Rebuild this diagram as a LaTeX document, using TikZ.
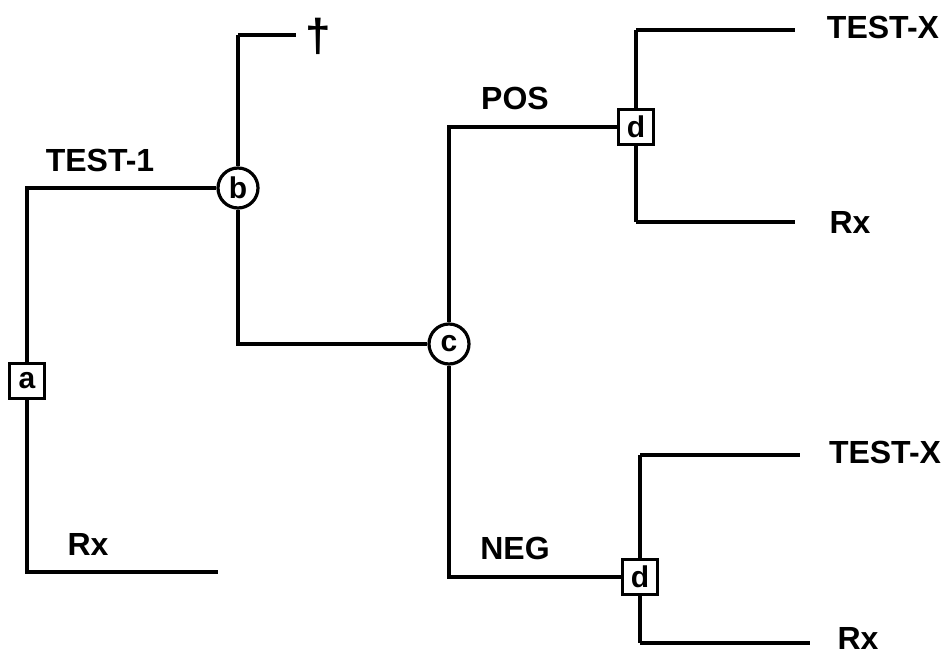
\documentclass[tikz,border=0pt]{standalone}
\usepackage{fontspec}
\setmainfont{Liberation Sans}
\begin{document}
\begin{tikzpicture}[x=1pt,y=-1pt,
    branch/.style={line width=3.2pt},
    chance/.style={draw, circle, line width=3.2pt, fill=white, minimum size=40pt,
        inner sep=0pt, font=\bfseries\fontsize{30}{30}\selectfont},
    choice/.style={draw, rectangle, line width=3.2pt, fill=white, minimum size=35pt,
        inner sep=0pt, font=\bfseries\fontsize{30}{30}\selectfont},
    lbl/.style={font=\bfseries\fontsize{32}{32}\selectfont, inner sep=0pt}]
    \useasboundingbox (0,0) rectangle (943,654);
    % Define the ends of the branches
    \coordinate (aend) at (218,572);
    \coordinate (btop) at (238,35);
    \coordinate (bend) at (296,35);
    \coordinate (dtopA) at (636,30);
    \coordinate (dtopB) at (636,222);
    \coordinate (dbotA) at (640,455);
    \coordinate (dbotB) at (640,643);

    % Draw the branches first, the nodes sit on top
    \draw[branch] (dtopA) -- (795,30);
    \draw[branch] (dtopB) -- (795,222);
    \draw[branch] (dbotA) -- (800,455);
    \draw[branch] (dbotB) -- (810,643);
    \draw[branch] (dtopA) -- (dtopB);
    \draw[branch] (dbotA) -- (dbotB);
    \draw[branch] (btop) -- (bend);

    % Decision and chance nodes
    \node[choice] (a) at (27,381) {a};
    \node[chance] (b) at (238,188) {b};
    \node[chance] (c) at (449,344) {c};
    \node[choice] (d1) at (636,127) {d};
    \node[choice] (d2) at (640,577) {d};

    \draw[branch] (a.north) |- (b.west);
    \draw[branch] (a.south) |- (aend);
    \draw[branch] (b.north) -- (btop);
    \draw[branch] (b.south) |- (c.west);
    \draw[branch] (c.north) |- (d1.west);
    \draw[branch] (c.south) |- (d2.west);

    % Labels
    \node[lbl] (test1) at (100,160) {TEST-1};
    \node[lbl] (rxa) at (88,544) {Rx};
    \node[font=\bfseries\fontsize{46}{46}\selectfont, inner sep=0pt] (dead) at (318,36) {†};
    \node[lbl] (pos) at (515,98) {POS};
    \node[lbl] (neg) at (515,548) {NEG};
    \node[lbl] (testxA) at (883,27) {TEST-X};
    \node[lbl] (rxA) at (850,222) {Rx};
    \node[lbl] (testxB) at (885,452) {TEST-X};
    \node[lbl] (rxB) at (858,638) {Rx};
\end{tikzpicture}
\end{document}
